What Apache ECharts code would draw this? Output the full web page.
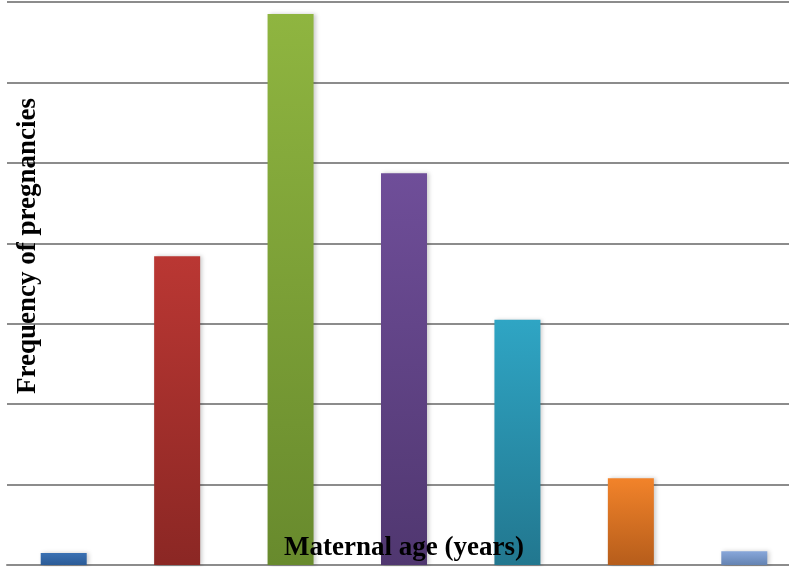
<!DOCTYPE html>
<html>
<head>
<meta charset="utf-8">
<script src="https://cdn.jsdelivr.net/npm/echarts@6/dist/echarts.min.js"></script>
<style>
  html, body { margin: 0; padding: 0; background: #fff; }
  #chart { width: 789px; height: 567px; }
</style>
</head>
<body>
<div id="chart"></div>
<script>
// age groups (labels are not printed on the original chart)
const ageGroups = ['<20', '20-24', '25-29', '30-34', '35-39', '40-44', '45+'];
const pregnancies = [1.5, 38.4, 68.5, 48.7, 30.5, 10.8, 1.7];
// top / bottom gradient colour of each bar
const topColors = ['#3b71b3', '#ba3733', '#8fb540', '#6f4e99', '#2fa5c4', '#f2832a', '#88a7da'];
const bottomColors = ['#2b5b97', '#8b2724', '#688a2d', '#503770', '#22778f', '#b65d1b', '#6483b2'];

const chart = echarts.init(document.getElementById('chart'));

const barData = pregnancies.map((v, i) => ({
    value: v,
    itemStyle: {
        color: new echarts.graphic.LinearGradient(0, 0, 0, 1, [
            { offset: 0, color: topColors[i] },
            { offset: 1, color: bottomColors[i] }
        ])
    }
}));

const titleFont = {
    fontFamily: 'Liberation Serif', fontWeight: 'bold', fontSize: 27,
    fill: '#000', align: 'center', verticalAlign: 'middle'
};

const option = {
    animation: false,
    grid: { left: 7, top: 2, right: -12, bottom: 2, outerBoundsMode: 'none' },
    xAxis: {
        type: 'category',
        data: ageGroups,
        axisLine: { lineStyle: { color: '#8c8c8c', width: 2 } },
        axisTick: { show: false },
        axisLabel: { show: false }
    },
    yAxis: {
        type: 'value',
        min: 0, max: 70, interval: 10,
        axisLabel: { show: false },
        axisLine: { show: false },
        axisTick: { show: false },
        splitLine: { lineStyle: { color: '#8c8c8c', width: 2 } }
    },
    graphic: [{
        type: 'text',
        x: 28, y: 246,
        rotation: Math.PI / 2,
        z: 100,
        style: Object.assign({ text: 'Frequency of pregnancies' }, titleFont)
    }, {
        type: 'text',
        x: 404, y: 548,
        z: 100,
        style: Object.assign({ text: 'Maternal age (years)' }, titleFont)
    }],
    series: [{
        type: 'bar',
        data: barData,
        barWidth: 46,
        itemStyle: {
            shadowBlur: 4,
            shadowOffsetX: 2,
            shadowColor: 'rgba(0,0,0,0.2)'
        }
    }]
};

chart.setOption(option);
</script>
</body>
</html>
